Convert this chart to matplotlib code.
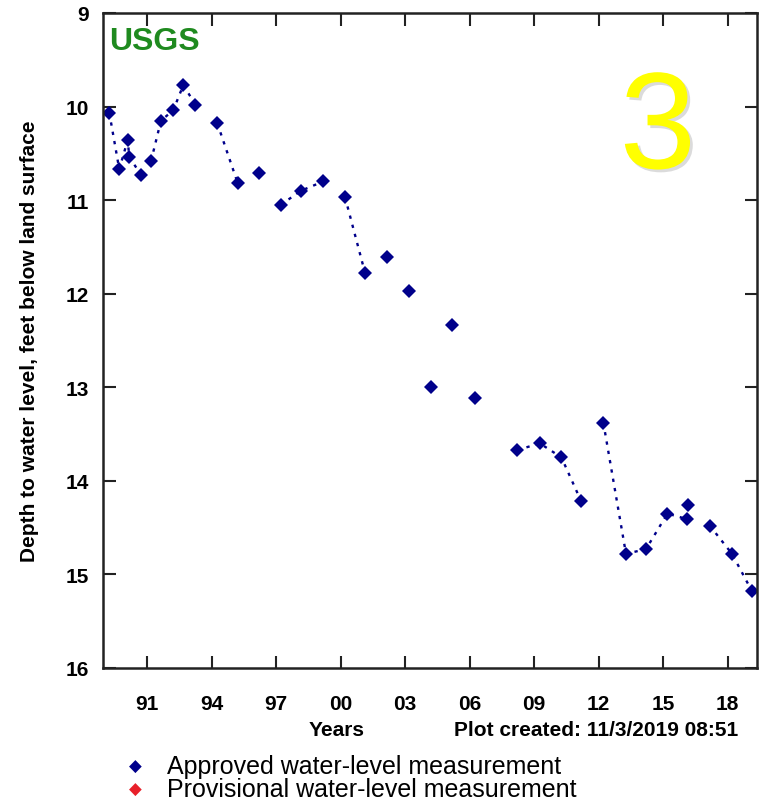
import matplotlib
matplotlib.use("Agg")
import matplotlib.pyplot as plt
import matplotlib.patheffects as pe
import numpy as np

# measurement dates (decimal years) and depth to water (ft below land surface)
years = [1989.25, 1989.71, 1990.10, 1990.18, 1990.72,
         1991.19, 1991.65, 1992.22, 1992.69, 1993.25,
         1994.27, 1995.22, 1996.22, 1997.22, 1998.16,
         1999.20, 2000.21, 2001.14, 2002.18, 2003.19,
         2004.22, 2005.17, 2006.27, 2008.22, 2009.27,
         2010.27, 2011.19, 2012.22, 2013.27, 2014.20,
         2015.20, 2016.12, 2016.14, 2017.17, 2018.20,
         2019.13]
depth = [10.07, 10.67, 10.36, 10.54, 10.73,
         10.58, 10.15, 10.04, 9.77, 9.98,
         10.18, 10.82, 10.71, 11.05, 10.90,
         10.80, 10.97, 11.78, 11.61, 11.97,
         13.00, 12.33, 13.11, 13.67, 13.60,
         13.75, 14.22, 13.38, 14.78, 14.73,
         14.35, 14.41, 14.26, 14.48, 14.78,
         15.18]
# True = dotted line drawn from previous measurement
joined = [False, True, True, True, True,
          False, True, True, True, True,
          False, True, False, False, True,
          True, False, True, False, False,
          False, False, False, False, True,
          True, True, False, True, True,
          True, True, True, False, True,
          True]

tick_years = [1991, 1994, 1997, 2000, 2003, 2006, 2009, 2012, 2015, 2018]
tick_labels = ['91', '94', '97', '00', '03', '06', '09', '12', '15', '18']
depth_ticks = [9, 10, 11, 12, 13, 14, 15, 16]

NAVY = '#00008b'

plt.rcParams['font.family'] = ['Liberation Sans', 'DejaVu Sans']

fig = plt.figure(figsize=(7.63, 8.03), dpi=100)
ax = fig.add_axes([0.1346, 0.1669, 0.8569, 0.8157])

# build line with breaks where measurements are not joined
lx, ly = [], []
for i in range(len(years)):
    if i > 0 and not joined[i]:
        lx.append(np.nan)
        ly.append(np.nan)
    lx.append(years[i])
    ly.append(depth[i])
ax.plot(lx, ly, linestyle=(0, (1.4, 2.6)), color=NAVY, linewidth=1.7)
ax.plot(years, depth, linestyle='none', marker='D', markersize=6.8,
        color=NAVY, markeredgewidth=0)

ax.set_xlim(1988.94, 2019.34)
ax.set_ylim(16, 9)
ax.set_xticks(tick_years)
ax.set_xticklabels(tick_labels)
ax.set_yticks(depth_ticks)

ax.tick_params(direction='in', length=9, width=1.5, color='#222222',
               top=True, right=True, labelsize=15)
ax.tick_params(axis='x', pad=19)
ax.tick_params(axis='y', pad=10)
for lab in ax.get_xticklabels() + ax.get_yticklabels():
    lab.set_fontweight('bold')
for sp in ax.spines.values():
    sp.set_linewidth(1.8)
    sp.set_color('#222222')

ax.set_ylabel('Depth to water level, feet below land surface',
              fontsize=15, fontweight='bold')
ax.yaxis.set_label_coords(-0.098, 0.5)

ax.text(0.01, 0.957, 'USGS', transform=ax.transAxes, color='#1f8a1f',
        fontsize=23, fontweight='bold', va='center', ha='left')
three = ax.text(0.849, 0.763, '3', transform=ax.transAxes, color='#ffff00',
                fontsize=99, va='baseline', ha='center')
three.set_path_effects([pe.withSimplePatchShadow(offset=(2, -2),
                                                 shadow_rgbFace='#999999',
                                                 alpha=0.35)])

fig.text(337 / 763, 1 - 731 / 803, 'Years', fontsize=15, fontweight='bold',
         ha='center', va='center')
fig.text(738 / 763, 1 - 731 / 803, 'Plot created: 11/3/2019 08:51',
         fontsize=15, fontweight='bold', ha='right', va='center')

# legend rows
fig.text(135 / 763, 1 - 767 / 803, '\u25c6', color=NAVY, fontsize=12,
         ha='center', va='center', family='DejaVu Sans')
fig.text(135 / 763, 1 - 790 / 803, '\u25c6', color='#e8202a', fontsize=12,
         ha='center', va='center', family='DejaVu Sans')
fig.text(167 / 763, 1 - 767 / 803, 'Approved water-level measurement',
         fontsize=18, ha='left', va='center')
fig.text(167 / 763, 1 - 790 / 803, 'Provisional water-level measurement',
         fontsize=18, ha='left', va='center')

fig.savefig('out.png', dpi=100)
